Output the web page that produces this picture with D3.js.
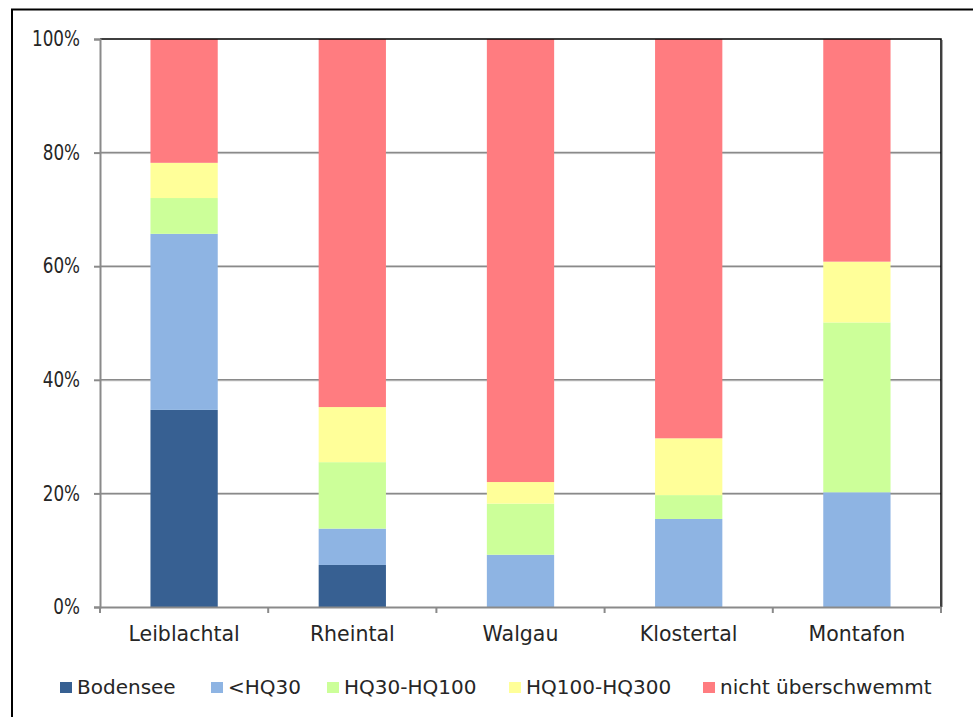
<!DOCTYPE html>
<html>
<head>
<meta charset="utf-8">
<script src="https://cdn.jsdelivr.net/npm/d3@7"></script>
<style>
  html, body { margin: 0; padding: 0; background: #fff; }
  svg { display: block; }
  text { font-family: "Century Gothic", "DejaVu Sans", sans-serif; fill: #262626; }
</style>
</head>
<body>
<svg id="chart" width="973" height="717"></svg>
<script>
// Regions (x axis categories)
const categories = ["Leiblachtal", "Rheintal", "Walgau", "Klostertal", "Montafon"];

// Series names, in stacking order from bottom to top
const seriesNames = ["Bodensee", "<HQ30", "HQ30-HQ100", "HQ100-HQ300", "nicht überschwemmt"];

// Share of area per region (percent)
const bodensee    = [34.7,  7.4,  0.0,  0.0,  0.0];
const hq30        = [31.0,  6.4,  9.2, 15.5, 20.2];
const hq30_100    = [ 6.3, 11.7,  9.0,  4.2, 29.9];
const hq100_300   = [ 6.2,  9.7,  3.8, 10.0, 10.7];
const nichtUeber  = [21.8, 64.8, 78.0, 70.3, 39.2];

const yTicks = [0, 20, 40, 60, 80, 100];

const colors = ["#376092", "#8EB4E3", "#CCFF99", "#FFFF99", "#FF7C80"];

const seriesValues = [bodensee, hq30, hq30_100, hq100_300, nichtUeber];
const rows = categories.map((c, i) => {
  const r = { category: c };
  seriesNames.forEach((s, k) => { r[s] = seriesValues[k][i]; });
  return r;
});

const FONT = '"Century Gothic", "DejaVu Sans", sans-serif';
const PCT_SQUEEZE = 0.8; // narrower digits for the percent labels

const svg = d3.select("#chart");

// Outer chart frame
svg.append("rect")
  .attr("x", 12).attr("y", 9.5)
  .attr("width", 980).attr("height", 730)
  .attr("fill", "none").attr("stroke", "#000").attr("stroke-width", 2);

const plot = { left: 100, right: 941, top: 39, bottom: 607 };

const x = d3.scaleBand()
  .domain(categories)
  .range([plot.left, plot.right])
  .paddingInner(0.6).paddingOuter(0.3);

const y = d3.scaleLinear().domain([0, 100]).range([plot.bottom, plot.top]);

// Gridlines
const grid = svg.append("g");
yTicks.filter(t => t > 0 && t < 100).forEach(t => {
  grid.append("line")
    .attr("x1", plot.left).attr("x2", plot.right)
    .attr("y1", y(t) + 1).attr("y2", y(t) + 1)
    .attr("stroke", "#c8c8c8").attr("stroke-width", 1);
  grid.append("line")
    .attr("x1", plot.left).attr("x2", plot.right)
    .attr("y1", y(t)).attr("y2", y(t))
    .attr("stroke", "#8a8a8a").attr("stroke-width", 1.5);
});

// Stacked bars
const stack = d3.stack().keys(seriesNames);
const layers = stack(rows);

svg.append("g").selectAll("g")
  .data(layers)
  .join("g")
  .attr("fill", (d, i) => colors[i])
  .selectAll("rect")
  .data(d => d)
  .join("rect")
  .attr("x", d => x(d.data.category))
  .attr("y", d => y(d[1]))
  .attr("width", x.bandwidth())
  .attr("height", d => y(d[0]) - y(d[1]));

// Plot border: top and right in black
svg.append("path")
  .attr("d", `M${plot.left},${plot.top}H${plot.right}V${plot.bottom}`)
  .attr("fill", "none").attr("stroke", "#000").attr("stroke-width", 1.5);
svg.append("line")
  .attr("x1", plot.right + 1.5).attr("x2", plot.right + 1.5)
  .attr("y1", plot.top + 1).attr("y2", plot.bottom)
  .attr("stroke", "#aaa").attr("stroke-width", 1);

// Y axis
const yAxis = d3.axisLeft(y).tickValues(yTicks).tickFormat(d => d + "%").tickSize(6).tickPadding(14);
const gy = svg.append("g").attr("transform", `translate(${plot.left},0)`).call(yAxis);
gy.select(".domain").attr("stroke", "#8a8a8a").attr("stroke-width", 2);
gy.selectAll(".tick line").attr("stroke", "#8a8a8a").attr("stroke-width", 2);
gy.selectAll(".tick text")
  .attr("font-size", 21)
  .style("font-family", FONT)
  .attr("fill", "#262626")
  .attr("x", -20 / PCT_SQUEEZE)
  .attr("transform", `scale(${PCT_SQUEEZE},1)`);

// X axis
const xAxis = d3.axisBottom(x).tickSize(0).tickPadding(19);
const gx = svg.append("g").attr("transform", `translate(0,${plot.bottom})`).call(xAxis);
gx.select(".domain").attr("stroke", "#8a8a8a").attr("stroke-width", 2);
gx.selectAll(".tick text")
  .attr("font-size", 20.5)
  .style("font-family", FONT)
  .attr("fill", "#262626");
// category separator ticks
d3.range(categories.length + 1).forEach(i => {
  const xp = plot.left + i * (plot.right - plot.left) / categories.length;
  gx.append("line")
    .attr("x1", xp).attr("x2", xp).attr("y1", 0).attr("y2", 6)
    .attr("stroke", "#8a8a8a").attr("stroke-width", 2);
});

// Legend
const legendX = [60, 211, 327, 509, 703];
const legend = svg.append("g");
seriesNames.forEach((s, i) => {
  legend.append("rect")
    .attr("x", legendX[i]).attr("y", 682)
    .attr("width", 12).attr("height", 11)
    .attr("fill", colors[i]);
  legend.append("text")
    .attr("x", legendX[i] + 17).attr("y", 694)
    .attr("font-size", 20)
    .text(s);
});
</script>
</body>
</html>
